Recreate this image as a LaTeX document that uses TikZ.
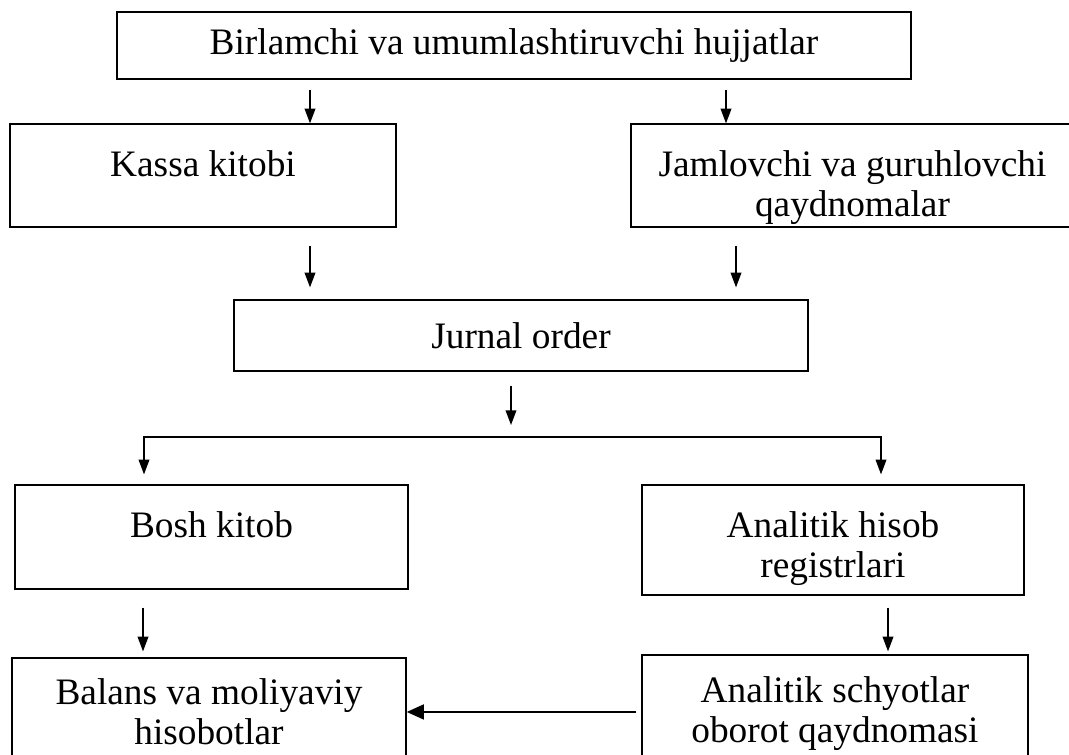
\documentclass[tikz,border=0pt]{standalone}
\usepackage{fontspec}
\setmainfont{Liberation Serif}
\usetikzlibrary{arrows.meta,calc}
\tikzset{
  box/.style={draw, rectangle, line width=0.9pt, align=center, inner sep=0pt, font=\fontsize{28}{30}\selectfont},
  txt/.style={anchor=north, yshift=-20.5pt, align=center, inner sep=0pt, font=\fontsize{28}{30}\selectfont},
  arr/.style={-{Triangle[length=11pt,width=8pt]}, line width=1pt},
  harr/.style={-{Triangle[length=13pt,width=11pt]}, line width=2.2pt}
}

\begin{document}
\begin{tikzpicture}[x=0.75pt,y=-0.75pt]
\useasboundingbox (0,0) rectangle (1069,755);
% boxes
\node[box, minimum width=595.5pt, minimum height=50.25pt] (hujjat) at (514,45.5) {Birlamchi va umumlashtiruvchi hujjatlar};
\node[box, minimum width=289.5pt, minimum height=77.25pt, label={[txt]north:{Kassa kitobi}}] (kassa) at (203,175.5) {};
\node[box, minimum width=332.25pt, minimum height=77.25pt, label={[txt]north:{Jamlovchi va guruhlovchi\\qaydnomalar}}] (jaml) at (852.5,175.5) {};
\node[box, minimum width=430.5pt, minimum height=53.25pt] (jurnal) at (521,335.5) {Jurnal order};
\node[box, minimum width=294.75pt, minimum height=78pt, label={[txt]north:{Bosh kitob}}] (bosh) at (211.5,537) {};
\node[box, minimum width=286.5pt, minimum height=82.5pt, label={[txt]north:{Analitik hisob\\registrlari}}] (anhisob) at (833,540) {};
\node[box, minimum width=295.5pt, minimum height=78pt, label={[txt, yshift=5pt]north:{Balans va moliyaviy\\hisobotlar}}] (balans) at (209,710) {};
\node[box, minimum width=289.5pt, minimum height=80.25pt, label={[txt, yshift=4pt]north:{Analitik schyotlar\\oborot qaydnomasi}}] (schyot) at (835,708.5) {};
% arrow columns
\coordinate (c1) at (310,0);
\coordinate (c2) at (726,0);
\coordinate (c3) at (736,0);
\coordinate (split) at (511,437);
\coordinate (lb) at (144,437);
\coordinate (rb) at (881,437);
\coordinate (c4) at (143,0);
\coordinate (c5) at (888,0);
% connectors
\draw[arr, shorten <=7.5pt] (hujjat.south -| c1) -- (kassa.north -| c1);
\draw[arr, shorten <=7.5pt] (hujjat.south -| c2) -- (jaml.north -| c2);
\draw[arr, shorten <=13.5pt, shorten >=9pt] (kassa.south -| c1) -- (jurnal.north -| c1);
\draw[arr, shorten <=13.5pt, shorten >=9pt] (jaml.south -| c3) -- (jurnal.north -| c3);
\draw[arr, shorten <=10.5pt, shorten >=9pt] (jurnal.south -| split) -- (split);
\draw[arr, shorten >=7.5pt] (rb) -- (lb) -- (lb |- bosh.north);
\draw[arr, shorten >=7.5pt] (lb) -- (rb) -- (rb |- anhisob.north);
\draw[arr, shorten <=13.5pt, shorten >=4.5pt] (bosh.south -| c4) -- (balans.north -| c4);
\draw[arr, shorten <=9pt, shorten >=2.25pt] (anhisob.south -| c5) -- (schyot.north -| c5);
\draw[harr, shorten <=3.75pt] ([yshift=-2.6pt]schyot.west) -- ([yshift=-2.6pt]schyot.west -| balans.east);
\end{tikzpicture}
\end{document}
